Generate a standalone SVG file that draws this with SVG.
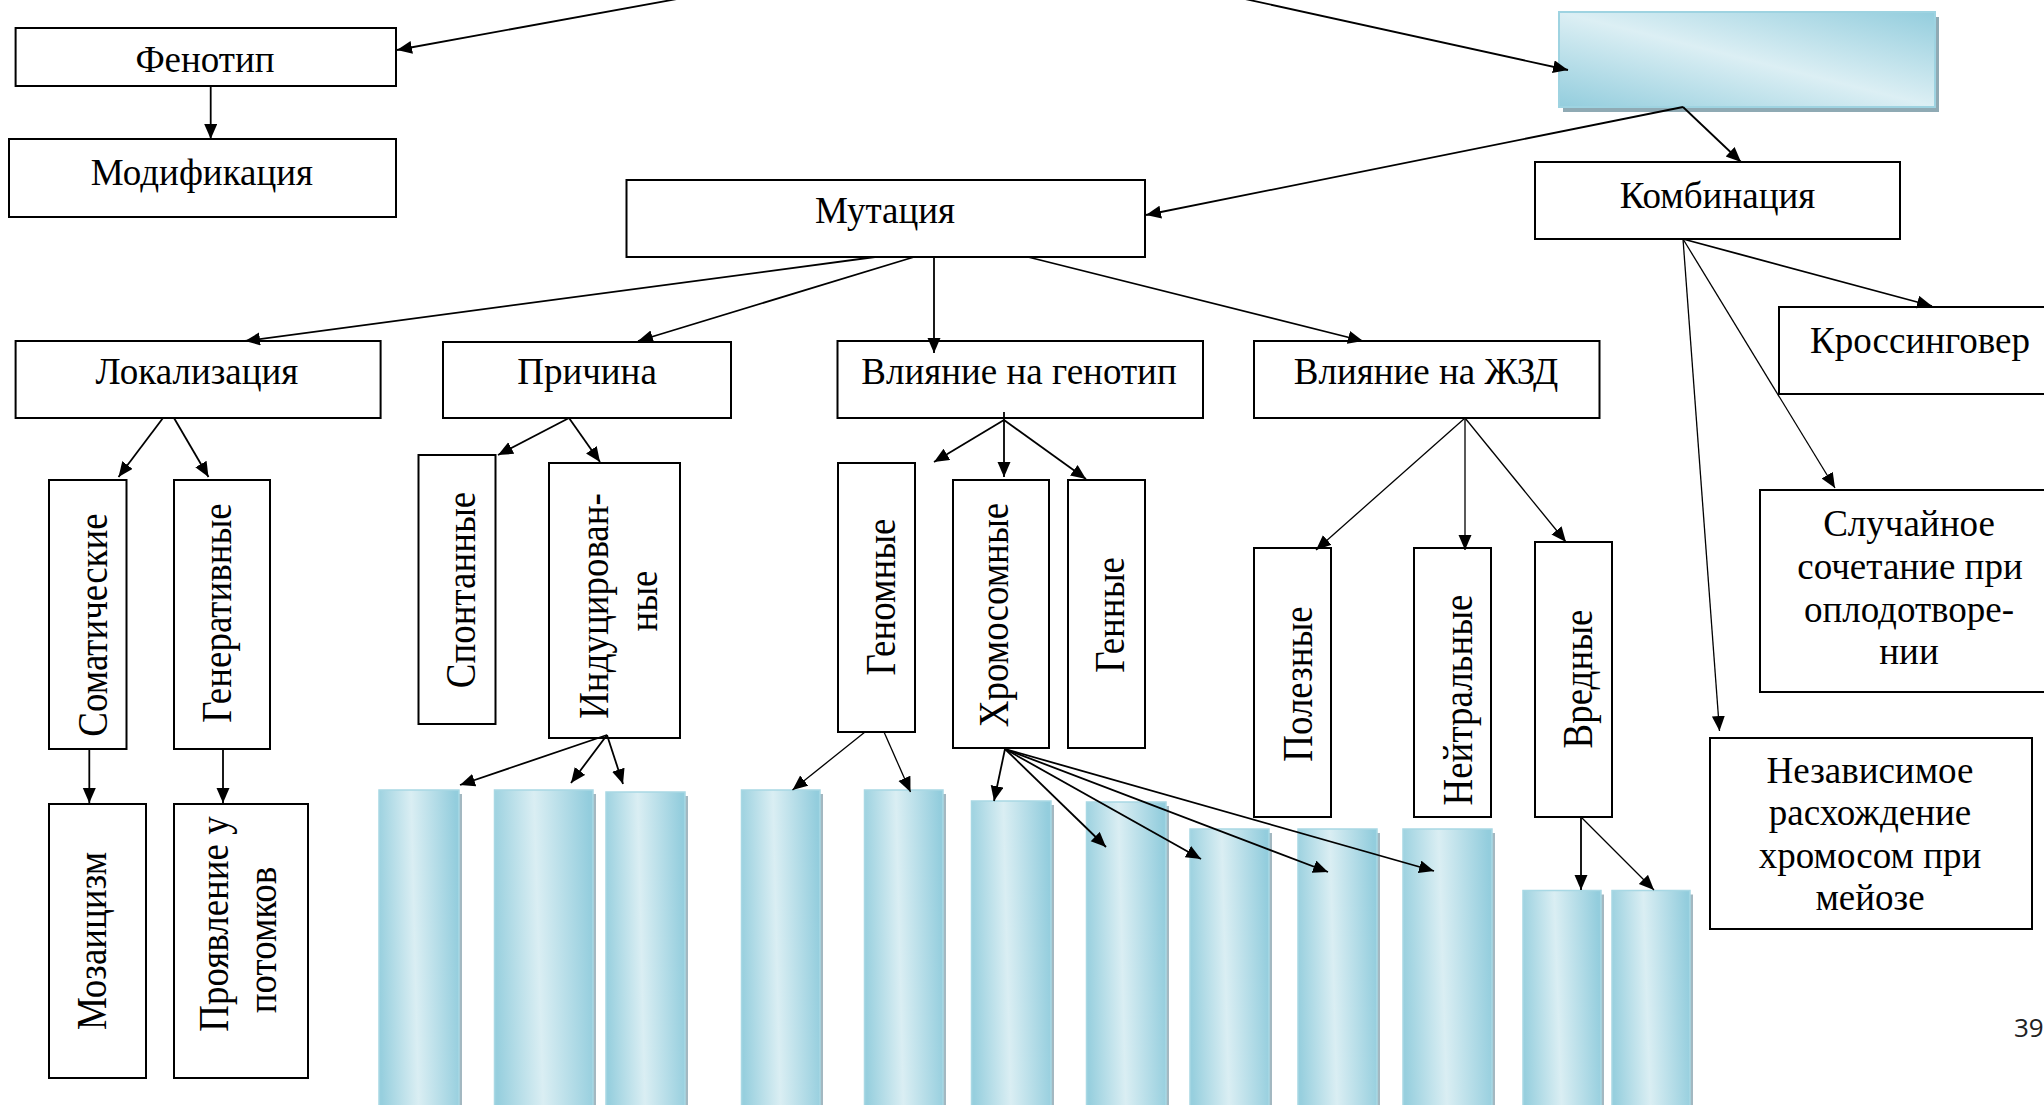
<svg xmlns="http://www.w3.org/2000/svg" width="2044" height="1105" viewBox="0 0 2044 1105">
  <style>
    .box { fill: #ffffff; stroke: #000000; stroke-width: 2; }
    .ht { font-family: "Liberation Serif", "Times New Roman", serif; font-size: 37px; fill: #000000; text-anchor: middle; }
    .vt { font-family: "Liberation Serif", "Times New Roman", serif; font-size: 42px; fill: #000000; text-anchor: middle; }
    .aqua { fill: url(#aquaTall); stroke: #A8D8E4; stroke-width: 1.5; }
    .aquaShadow { fill: #A3B8C1; }
    .c { fill: none; stroke: #000000; stroke-width: 1.8; marker-end: url(#arrow); }
    .t { fill: none; stroke: #000000; stroke-width: 1.3; marker-end: url(#arrow); }
    .pg { font-family: "Open Sans", "DejaVu Sans", sans-serif; font-size: 26px; fill: #222222; }
  </style>
  <defs>
    <marker id="arrow" markerUnits="userSpaceOnUse" markerWidth="16" markerHeight="14" refX="15" refY="6.5" orient="auto">
      <path d="M0,0 L15,6.5 L0,13 Z" fill="#000000"/>
    </marker>
    <linearGradient id="aquaWide" x1="0" y1="1" x2="1" y2="0">
      <stop offset="0" stop-color="#93CDDD"/>
      <stop offset="0.5" stop-color="#DCEFF4"/>
      <stop offset="1" stop-color="#93CDDD"/>
    </linearGradient>
    <linearGradient id="aquaTall" x1="0" y1="0.55" x2="1" y2="0.45">
      <stop offset="0" stop-color="#97CFDE"/>
      <stop offset="0.45" stop-color="#DAEEF3"/>
      <stop offset="1" stop-color="#93CDDD"/>
    </linearGradient>
  </defs>

  <rect width="2044" height="1105" fill="#ffffff"/>

  <!-- upper level -->
  <g id="node-fenotip">
    <rect class="box" x="15.6" y="28" width="380.4" height="58"/>
    <text class="ht" x="205" y="71.7">Фенотип</text>
  </g>
  <g id="node-modifikatsiya">
    <rect class="box" x="9" y="139" width="387" height="78"/>
    <text class="ht" x="202" y="185">Модификация</text>
  </g>
  <g id="node-genotype-blank">
    <rect x="1563" y="17" width="376" height="95" fill="#8FAAB4"/>
    <rect x="1559" y="12" width="376" height="95" fill="url(#aquaWide)" stroke="#9ED3E1" stroke-width="2"/>
  </g>
  <g id="node-mutatsiya">
    <rect class="box" x="626.5" y="180" width="518.5" height="77"/>
    <text class="ht" x="885" y="222.5">Мутация</text>
  </g>
  <g id="node-kombinatsiya">
    <rect class="box" x="1535" y="162" width="365" height="77"/>
    <text class="ht" x="1717.5" y="208">Комбинация</text>
  </g>

  <!-- mutation criteria -->
  <g id="node-lokalizatsiya">
    <rect class="box" x="15.6" y="341" width="365" height="77"/>
    <text class="ht" x="197" y="384">Локализация</text>
  </g>
  <g id="node-prichina">
    <rect class="box" x="443" y="342" width="288" height="76"/>
    <text class="ht" x="587" y="384">Причина</text>
  </g>
  <g id="node-vliyanie-genotip">
    <rect class="box" x="837.5" y="341" width="365.5" height="77"/>
    <text class="ht" x="1019" y="384">Влияние на генотип</text>
  </g>
  <g id="node-vliyanie-zhzd">
    <rect class="box" x="1254" y="341" width="345.5" height="77"/>
    <text class="ht" x="1426" y="384">Влияние на ЖЗД</text>
  </g>

  <!-- combination branches -->
  <g id="node-krossingover">
    <rect class="box" x="1779" y="307" width="284" height="87"/>
    <text class="ht" x="1920" y="353">Кроссинговер</text>
  </g>
  <g id="node-sluchaynoe">
    <rect class="box" x="1760" y="490" width="300" height="202"/>
    <text class="ht" x="1909" y="536">Случайное</text>
    <text class="ht" x="1910" y="579">сочетание при</text>
    <text class="ht" x="1909" y="622">оплодотворе-</text>
    <text class="ht" x="1909" y="664">нии</text>
  </g>
  <g id="node-nezavisimoe">
    <rect class="box" x="1710" y="738" width="322" height="191"/>
    <text class="ht" x="1870" y="783">Независимое</text>
    <text class="ht" x="1870" y="825">расхождение</text>
    <text class="ht" x="1870" y="868">хромосом при</text>
    <text class="ht" x="1870" y="910">мейозе</text>
  </g>

  <!-- vertical category boxes -->
  <g id="node-somaticheskie">
    <rect class="box" x="49" y="480" width="77.5" height="269"/>
    <text class="vt" transform="translate(106.5 625) rotate(-90) scale(0.88 1)">Соматические</text>
  </g>
  <g id="node-generativnye">
    <rect class="box" x="174" y="480" width="96" height="269"/>
    <text class="vt" transform="translate(231 613) rotate(-90) scale(0.88 1)">Генеративные</text>
  </g>
  <g id="node-spontannye">
    <rect class="box" x="418.5" y="455" width="77" height="269"/>
    <text class="vt" transform="translate(475 590) rotate(-90) scale(0.88 1)">Спонтанные</text>
  </g>
  <g id="node-indutsirovannye">
    <rect class="box" x="549" y="463" width="131" height="275"/>
    <text class="vt" transform="translate(608 606) rotate(-90) scale(0.88 1)">Индуцирован-</text>
    <text class="vt" transform="translate(657 601) rotate(-90) scale(0.88 1)">ные</text>
  </g>
  <g id="node-mozaitsizm">
    <rect class="box" x="49" y="804" width="97" height="274"/>
    <text class="vt" transform="translate(106 941) rotate(-90) scale(0.88 1)">Мозаицизм</text>
  </g>
  <g id="node-proyavlenie">
    <rect class="box" x="174" y="804" width="134" height="274"/>
    <text class="vt" transform="translate(228 924) rotate(-90) scale(0.88 1)">Проявление у</text>
    <text class="vt" transform="translate(276 940) rotate(-90) scale(0.88 1)">потомков</text>
  </g>
  <g id="node-genomnye">
    <rect class="box" x="838" y="463" width="77" height="269"/>
    <text class="vt" transform="translate(895 597) rotate(-90) scale(0.88 1)">Геномные</text>
  </g>
  <g id="node-khromosomnye">
    <rect class="box" x="953" y="480" width="96" height="268"/>
    <text class="vt" transform="translate(1008 615) rotate(-90) scale(0.88 1)">Хромосомные</text>
  </g>
  <g id="node-gennye">
    <rect class="box" x="1068" y="480" width="77" height="268"/>
    <text class="vt" transform="translate(1124 615) rotate(-90) scale(0.88 1)">Генные</text>
  </g>
  <g id="node-poleznye">
    <rect class="box" x="1254" y="548" width="77" height="269"/>
    <text class="vt" transform="translate(1312 684) rotate(-90) scale(0.88 1)">Полезные</text>
  </g>
  <g id="node-neytralnye">
    <rect class="box" x="1414" y="548" width="77" height="269"/>
    <text class="vt" transform="translate(1472 700) rotate(-90) scale(0.88 1)">Нейтральные</text>
  </g>
  <g id="node-vrednye">
    <rect class="box" x="1535" y="542" width="77" height="275"/>
    <text class="vt" transform="translate(1592 679) rotate(-90) scale(0.88 1)">Вредные</text>
  </g>

  <!-- empty aqua columns of the bottom row -->
  <g id="node-ind-1"><rect class="aquaShadow" x="382" y="794" width="80" height="330"/><rect class="aqua" x="379" y="790" width="80" height="330"/></g>
  <g id="node-ind-2"><rect class="aquaShadow" x="497.5" y="794" width="98.5" height="330"/><rect class="aqua" x="494.5" y="790" width="98.5" height="330"/></g>
  <g id="node-ind-3"><rect class="aquaShadow" x="609" y="796" width="79" height="330"/><rect class="aqua" x="606" y="792" width="79" height="330"/></g>
  <g id="node-gen-1"><rect class="aquaShadow" x="744.5" y="794" width="78.5" height="330"/><rect class="aqua" x="741.5" y="790" width="78.5" height="330"/></g>
  <g id="node-gen-2"><rect class="aquaShadow" x="867.5" y="794" width="78.5" height="330"/><rect class="aqua" x="864.5" y="790" width="78.5" height="330"/></g>
  <g id="node-chr-1"><rect class="aquaShadow" x="974.5" y="805" width="79.5" height="320"/><rect class="aqua" x="971.5" y="801" width="79.5" height="320"/></g>
  <g id="node-chr-2"><rect class="aquaShadow" x="1089.5" y="806" width="79.5" height="320"/><rect class="aqua" x="1086.5" y="802" width="79.5" height="320"/></g>
  <g id="node-chr-3"><rect class="aquaShadow" x="1193" y="833" width="79" height="290"/><rect class="aqua" x="1190" y="829" width="79" height="290"/></g>
  <g id="node-chr-4"><rect class="aquaShadow" x="1301" y="833" width="79" height="290"/><rect class="aqua" x="1298" y="829" width="79" height="290"/></g>
  <g id="node-chr-5"><rect class="aquaShadow" x="1406" y="833" width="89" height="290"/><rect class="aqua" x="1403" y="829" width="89" height="290"/></g>
  <g id="node-vred-1"><rect class="aquaShadow" x="1526" y="894.5" width="78" height="230"/><rect class="aqua" x="1523" y="890.5" width="78" height="230"/></g>
  <g id="node-vred-2"><rect class="aquaShadow" x="1615" y="894.5" width="78" height="230"/><rect class="aqua" x="1612" y="890.5" width="78" height="230"/></g>

  <!-- connectors -->
  <g id="connectors">
    <line class="c" x1="677" y1="-1" x2="397" y2="50"/>
    <line class="c" x1="1245" y1="-1" x2="1568" y2="70"/>
    <line class="c" x1="210.7" y1="86" x2="210.7" y2="139"/>
    <line class="c" x1="1683" y1="107" x2="1146" y2="215"/>
    <line class="c" x1="1683" y1="107" x2="1741" y2="162"/>

    <line class="c" x1="875" y1="257" x2="245" y2="341"/>
    <line class="c" x1="914" y1="257" x2="638" y2="341"/>
    <line class="c" x1="934" y1="257" x2="934" y2="353"/>
    <line class="c" x1="1028" y1="257" x2="1363" y2="341"/>

    <line class="c" x1="1683" y1="239" x2="1932" y2="306"/>
    <line class="t" x1="1683" y1="239" x2="1835" y2="488"/>
    <line class="t" x1="1683" y1="239" x2="1719.5" y2="731"/>

    <line class="c" x1="163" y1="418" x2="118.5" y2="477"/>
    <line class="c" x1="174" y1="418" x2="208.5" y2="477"/>
    <line class="c" x1="569" y1="418" x2="498" y2="455"/>
    <line class="c" x1="569" y1="418" x2="600" y2="462"/>

    <line class="c" x1="89.3" y1="749" x2="89.3" y2="803"/>
    <line class="c" x1="223" y1="749" x2="223" y2="803"/>

    <line class="c" x1="607" y1="735" x2="460" y2="785"/>
    <line class="c" x1="607" y1="735" x2="571" y2="783"/>
    <line class="c" x1="607" y1="735" x2="623" y2="784"/>

    <line class="c" x1="1004" y1="420" x2="934" y2="462"/>
    <line class="c" x1="1004" y1="412" x2="1004" y2="477"/>
    <line class="c" x1="1004" y1="420" x2="1086" y2="479"/>

    <line class="t" x1="1465" y1="418" x2="1316" y2="550"/>
    <line class="t" x1="1465" y1="418" x2="1465" y2="550"/>
    <line class="t" x1="1465" y1="418" x2="1566" y2="542"/>

    <line class="t" x1="865" y1="732" x2="792.5" y2="790"/>
    <line class="t" x1="884" y1="732" x2="910.5" y2="792"/>

    <line class="c" x1="1005" y1="749" x2="994" y2="801"/>
    <line class="c" x1="1005" y1="749" x2="1106" y2="847"/>
    <line class="c" x1="1005" y1="749" x2="1201" y2="859"/>
    <line class="c" x1="1005" y1="749" x2="1328" y2="872"/>
    <line class="c" x1="1005" y1="749" x2="1434" y2="871"/>

    <line class="c" x1="1581" y1="817" x2="1581" y2="890"/>
    <line class="t" x1="1581" y1="817" x2="1654" y2="890"/>
  </g>

  <text class="pg" x="2014" y="1037">39</text>
</svg>
